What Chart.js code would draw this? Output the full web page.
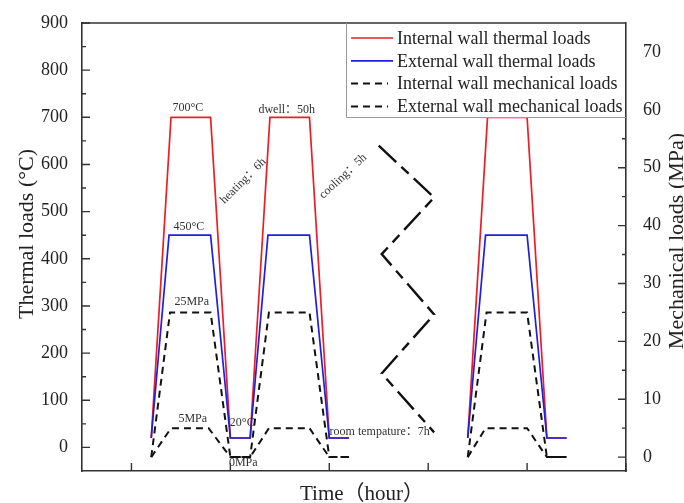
<!DOCTYPE html>
<html>
<head>
<meta charset="utf-8">
<script src="https://cdn.jsdelivr.net/npm/chart.js@4.4.0/dist/chart.umd.min.js"></script>
<style>
  html, body { margin: 0; padding: 0; background: #fff; }
</style>
</head>
<body>
<canvas id="myChart" width="684" height="503"></canvas>
<script>
// time positions (schematic hours, the axis carries no numbers); null = gap between cycles
const internalThermalX = [0.2, 0.4, 0.8, 1.0, 1.2, 1.4, 1.8, 2.0, 2.2, 2.3, 3.4, 3.6, 4.0, 4.2, 4.4];
const internalThermalY = [20, 700, 700, 20, 20, 700, 700, 20, 20, null, 20, 700, 700, 20, 20];

const externalThermalX = [0.2, 0.38, 0.8, 1.0, 1.2, 1.38, 1.8, 2.0, 2.2, 2.3, 3.4, 3.58, 4.0, 4.2, 4.4];
const externalThermalY = [20, 450, 450, 20, 20, 450, 450, 20, 20, null, 20, 450, 450, 20, 20];

const internalMechX = [0.2, 0.39, 0.8, 1.0, 1.2, 1.39, 1.8, 2.0, 2.2, 2.3, 3.4, 3.59, 4.0, 4.2, 4.4];
const internalMechY = [0, 25, 25, 0, 0, 25, 25, 0, 0, null, 0, 25, 25, 0, 0];

const externalMechX = [0.2, 0.4, 0.78, 1.0, 1.2, 1.39, 1.8, 2.0, 2.2, 2.3, 3.4, 3.58, 4.0, 4.2, 4.4];
const externalMechY = [0, 5, 5, 0, 0, 5, 5, 0, 0, null, 0, 5, 5, 0, 0];

// zigzag break marker between cycle 2 and the last cycle (left axis units)
const breakX = [2.5, 3.06, 2.53, 3.06, 2.53, 3.06];
const breakY = [640, 530, 410, 282, 157, 32];

const seriesLabels = [
    'Internal wall thermal loads',
    'External wall thermal loads',
    'Internal wall mechanical loads',
    'External wall mechanical loads'
];

// text notes: [text, time, thermal value, angle]
const notes = [
    ['700°C', 0.57, 720, 0],
    ['450°C', 0.58, 467, 0],
    ['25MPa', 0.61, 308, 0],
    ['5MPa', 0.62, 60, 0],
    ['20°C', 1.12, 52, 0],
    ['0MPa', 1.13, -33, 0],
    ['heating：6h', 1.13, 565, -45],
    ['dwell：50h', 1.57, 716, 0],
    ['cooling：5h', 2.14, 575, -43],
    ['room tempature：7h', 2.51, 33, 0]
];

const SERIF = '"Liberation Serif", "Times New Roman", "Noto Sans CJK SC", serif';

const toPoints = (xs, ys) => xs.map((x, i) => ({ x: x, y: ys[i] }));

// ticks drawn inside the frame, majors + minors
const frameTicks = {
    id: 'frameTicks',
    afterDraw: (chart) => {
        const ctx = chart.ctx;
        const a = chart.chartArea;
        const sx = chart.scales.x, sy = chart.scales.y, sy2 = chart.scales.y2;
        ctx.save();
        ctx.strokeStyle = '#333';
        ctx.lineWidth = 1.6;
        ctx.beginPath();
        ctx.moveTo(a.left, a.top);
        ctx.lineTo(a.right, a.top);
        ctx.stroke();

        ctx.lineWidth = 1.4;
        ctx.beginPath();
        sy.ticks.forEach((t) => {
            const p = sy.getPixelForValue(t.value);
            ctx.moveTo(a.left, p); ctx.lineTo(a.left + 8, p);
            const m = sy.getPixelForValue(t.value + 50);
            if (m > a.top) { ctx.moveTo(a.left, m); ctx.lineTo(a.left + 4, m); }
        });
        sy2.ticks.forEach((t) => {
            const p = sy2.getPixelForValue(t.value);
            ctx.moveTo(a.right, p); ctx.lineTo(a.right - 8, p);
            const m = sy2.getPixelForValue(t.value + 5);
            if (m > a.top) { ctx.moveTo(a.right, m); ctx.lineTo(a.right - 4, m); }
        });
        sx.ticks.forEach((t) => {
            const p = sx.getPixelForValue(t.value);
            ctx.moveTo(p, a.bottom); ctx.lineTo(p, a.bottom - 8);
        });
        ctx.stroke();

        // axis titles
        ctx.fillStyle = '#222';
        ctx.textAlign = 'center';
        ctx.textBaseline = 'middle';
        ctx.font = '22px ' + SERIF;
        ctx.save();
        ctx.translate(27, 234);
        ctx.rotate(-Math.PI / 2);
        ctx.fillText('Thermal loads (°C)', 0, 0);
        ctx.restore();
        ctx.save();
        ctx.translate(677, 241);
        ctx.rotate(-Math.PI / 2);
        ctx.fillText('Mechanical loads (MPa)', 0, 0);
        ctx.restore();
        ctx.font = '21px ' + SERIF;
        ctx.fillText('Time（hour）', 362, 494);

        // notes
        ctx.fillStyle = '#333';
        ctx.font = '12px ' + SERIF;
        notes.forEach((n) => {
            ctx.save();
            ctx.translate(sx.getPixelForValue(n[1]), sy.getPixelForValue(n[2]));
            ctx.rotate(n[3] * Math.PI / 180);
            ctx.fillText(n[0], 0, 0);
            ctx.restore();
        });
        ctx.restore();
    }
};

// legend box in the top right corner
const boxLegend = {
    id: 'boxLegend',
    afterDraw: (chart) => {
        const ctx = chart.ctx;
        const a = chart.chartArea;
        const left = a.right - 280, bottom = a.top + 94;
        ctx.save();
        ctx.fillStyle = '#fff';
        ctx.fillRect(left, a.top + 1, a.right - left - 1, bottom - a.top - 1);
        ctx.strokeStyle = '#999';
        ctx.lineWidth = 1;
        ctx.beginPath();
        ctx.moveTo(left + 0.5, a.top);
        ctx.lineTo(left + 0.5, bottom + 0.5);
        ctx.lineTo(a.right, bottom + 0.5);
        ctx.stroke();
        ctx.font = '18px ' + SERIF;
        ctx.textBaseline = 'middle';
        ctx.textAlign = 'left';
        chart.data.datasets.forEach((ds, i) => {
            if (!ds.label) return;
            const y = a.top + 15 + i * 22.8;
            ctx.strokeStyle = ds.borderColor;
            ctx.lineWidth = ds.borderWidth;
            ctx.setLineDash(ds.borderDash || []);
            ctx.beginPath();
            ctx.moveTo(left + 5, y);
            ctx.lineTo(left + (ds.borderDash ? 42 : 47), y);
            ctx.stroke();
            ctx.setLineDash([]);
            ctx.fillStyle = '#222';
            ctx.fillText(ds.label, left + 51, y + 1);
        });
        ctx.restore();
    }
};

var ctx = document.getElementById('myChart').getContext('2d');
var chart = new Chart(ctx, {
    type: 'line',
    data: {
        datasets: [{
            label: seriesLabels[0],
            data: toPoints(internalThermalX, internalThermalY),
            borderColor: '#ee1c25',
            borderWidth: 1.7,
            yAxisID: 'y',
            order: 4
        }, {
            label: seriesLabels[1],
            data: toPoints(externalThermalX, externalThermalY),
            borderColor: '#1f1fe0',
            borderWidth: 1.7,
            yAxisID: 'y',
            order: 3
        }, {
            label: seriesLabels[2],
            data: toPoints(internalMechX, internalMechY),
            borderColor: '#111',
            borderWidth: 2,
            borderDash: [7, 5],
            yAxisID: 'y2',
            order: 2
        }, {
            label: seriesLabels[3],
            data: toPoints(externalMechX, externalMechY),
            borderColor: '#111',
            borderWidth: 2,
            borderDash: [7, 5],
            yAxisID: 'y2',
            order: 1
        }, {
            data: toPoints(breakX, breakY),
            borderColor: '#111',
            borderWidth: 2.4,
            borderDash: [24, 7, 10, 7],
            yAxisID: 'y',
            order: 0
        }]
    },
    options: {
        responsive: false,
        animation: false,
        layout: { padding: { top: 23 } },
        elements: { point: { radius: 0 }, line: { tension: 0 } },
        plugins: { legend: { display: false }, tooltip: { enabled: false } },
        scales: {
            x: {
                type: 'linear', min: -0.5, max: 5,
                ticks: { display: false, stepSize: 1, includeBounds: false },
                grid: { display: false },
                border: { color: '#333', width: 1.6 },
                afterBuildTicks: (s) => { s.ticks = s.ticks.filter((t) => t.value >= 0 && Number.isInteger(t.value)); },
                afterFit: (s) => { s.height = 32; }
            },
            y: {
                position: 'left', min: -50, max: 900,
                ticks: { stepSize: 100, includeBounds: false, padding: 6, color: '#222', font: { family: SERIF, size: 18 } },
                grid: { display: false },
                border: { color: '#333', width: 1.6 },
                afterBuildTicks: (s) => { s.ticks = s.ticks.filter((t) => t.value >= 0 && t.value % 100 === 0); },
                afterFit: (s) => { s.width = 82; }
            },
            y2: {
                position: 'right', min: -2.4, max: 75,
                ticks: { stepSize: 10, includeBounds: false, padding: 9, color: '#222', font: { family: SERIF, size: 18 } },
                grid: { display: false },
                border: { color: '#333', width: 1.6 },
                afterBuildTicks: (s) => { s.ticks = s.ticks.filter((t) => t.value >= 0 && t.value % 10 === 0); },
                afterFit: (s) => { s.width = 58; }
            }
        }
    },
    plugins: [frameTicks, boxLegend]
});
</script>
</body>
</html>
